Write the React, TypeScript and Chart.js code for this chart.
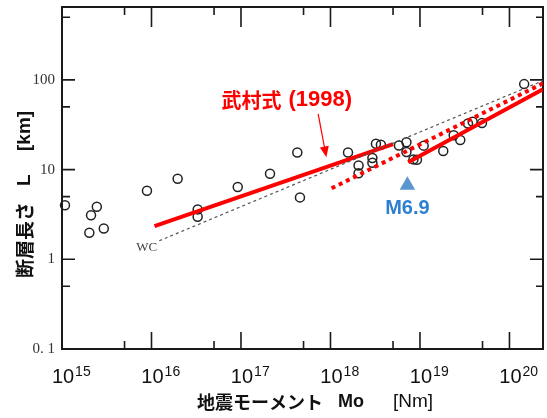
import React, { useEffect, useRef } from 'react';
import { Chart, registerables } from 'chart.js';
Chart.register(...registerables);

// Observed earthquakes: seismic moment Mo [Nm] vs fault length L [km]
const momentNm = [
  1.08e15, 2.45e15, 2.11e15, 2.02e15, 2.93e15, 8.9e15, 1.96e16, 3.28e16, 3.28e16,
  9.2e16, 2.11e17, 4.26e17, 4.56e17, 1.57e18, 2.06e18, 2.06e18, 2.94e18, 2.94e18,
  3.22e18, 3.66e18, 5.82e18, 7.06e18, 7.06e18, 8.45e18, 9.25e18, 1.1e19, 1.82e19,
  2.38e19, 2.82e19, 3.44e19, 3.88e19, 4.93e19, 1.46e20,
];
const lengthKm = [
  4.0, 3.86, 3.1, 1.98, 2.21, 5.8, 7.9, 3.6, 2.98,
  6.4, 9.0, 15.5, 4.9, 15.5, 11.1, 9.1, 13.5, 11.9,
  19.4, 18.9, 18.6, 20.2, 15.7, 13.0, 12.9, 18.5, 16.1,
  24.2, 21.4, 32.6, 34.2, 33.0, 89.8,
];

// Takemura (1998) relations
const takemuraSmallX = [1.08e16, 5.0e18];
const takemuraSmallY = [2.35, 19.2];
const takemuraLargeX = [7.38e18, 2.37e20];
const takemuraLargeY = [12.1, 78.5];
// red dotted relation
const dottedX = [1.03e18, 2.37e20];
const dottedY = [6.19, 91.6];
// Wells & Coppersmith (WC)
const wcX = [1.22e16, 2.37e20];
const wcY = [1.61, 98];

// M6.9 marker
const m69X = [7.24e18];
const m69Y = [6.7];

// annotation arrow (from label to line) and label anchor
const arrowX = [7.28e17, 9.0e17];
const arrowY = [41.7, 13.7];
const labelX = [6.05e16];
const labelY = [59.7];

// axes
const xMin = 1e15;
const xMax = 2.37e20;
const yMin = 0.1;
const yMax = 650;
const xMajor = [1e15, 1e16, 1e17, 1e18, 1e19, 1e20];
const xMinor = [5e15, 5e16, 5e17, 5e18, 5e19];
const xExp = ['15', '16', '17', '18', '19', '20'];
const yMajor = [0.1, 1, 10, 100];
const yMinor = [0.5, 5, 50, 500];
const yTickLabels = ['0. 1', '1', '10', '100'];

const pts = (xs: number[], ys: number[]) => xs.map((x, i) => ({ x, y: ys[i] }));

const overlay = {
  id: 'overlay',
  beforeDatasetsDraw(chart: any) {
    const { ctx, chartArea: a, scales } = chart;
    const xs = scales.x;
    const ys = scales.y;
    ctx.save();
    ctx.strokeStyle = '#1a1a1a';
    ctx.lineWidth = 1.6;
    ctx.beginPath();
    xMajor.forEach((v) => {
      const p = xs.getPixelForValue(v);
      if (p < a.left + 1 || p > a.right - 1) return;
      ctx.moveTo(p, a.bottom);
      ctx.lineTo(p, a.bottom - 17);
      ctx.moveTo(p, a.top);
      ctx.lineTo(p, a.top + 20);
    });
    xMinor.forEach((v) => {
      const p = xs.getPixelForValue(v);
      if (p < a.left + 1 || p > a.right - 1) return;
      ctx.moveTo(p, a.bottom);
      ctx.lineTo(p, a.bottom - 8);
      ctx.moveTo(p, a.top);
      ctx.lineTo(p, a.top + 8);
    });
    yMajor.forEach((v) => {
      const p = ys.getPixelForValue(v);
      if (p < a.top + 1 || p > a.bottom - 1) return;
      ctx.moveTo(a.left, p);
      ctx.lineTo(a.left + 13, p);
      ctx.moveTo(a.right, p);
      ctx.lineTo(a.right - 13, p);
    });
    yMinor.forEach((v) => {
      const p = ys.getPixelForValue(v);
      if (p < a.top + 1 || p > a.bottom - 1) return;
      ctx.moveTo(a.left, p);
      ctx.lineTo(a.left + 8, p);
      ctx.moveTo(a.right, p);
      ctx.lineTo(a.right - 7, p);
    });
    ctx.stroke();
    ctx.lineWidth = 2;
    ctx.strokeRect(a.left, a.top, a.right - a.left, a.bottom - a.top);
    ctx.restore();
  },
  afterDraw(chart: any) {
    const { ctx, chartArea: a, scales } = chart;
    const xs = scales.x;
    const ys = scales.y;
    ctx.save();

    // y tick labels
    ctx.fillStyle = '#333';
    ctx.font = '15px "Liberation Serif"';
    ctx.textAlign = 'right';
    ctx.textBaseline = 'middle';
    yMajor.forEach((v, i) => {
      ctx.fillText(yTickLabels[i], a.left - 7, ys.getPixelForValue(v));
    });

    // x tick labels with superscript
    ctx.fillStyle = '#111';
    ctx.textBaseline = 'alphabetic';
    xMajor.forEach((v, i) => {
      const p = xs.getPixelForValue(v) + 1;
      ctx.font = '20px "Liberation Sans"';
      ctx.textAlign = 'center';
      ctx.fillText('10', p, a.bottom + 34);
      const w = ctx.measureText('10').width;
      ctx.font = '14px "Liberation Sans"';
      ctx.textAlign = 'left';
      ctx.fillText(xExp[i], p + w / 2 + 1, a.bottom + 27);
    });

    // x title
    ctx.fillStyle = '#111';
    ctx.textBaseline = 'middle';
    ctx.textAlign = 'left';
    const ty = a.bottom + 53;
    ctx.font = 'bold 18px "Noto Sans CJK JP"';
    ctx.fillText('地震モーメント', 197, ty);
    ctx.font = 'bold 18px "Liberation Sans"';
    ctx.fillText('Mo', 338, ty);
    ctx.font = '19px "Liberation Sans"';
    ctx.fillText('[Nm]', 393, ty);

    // y title (rotated)
    ctx.save();
    ctx.translate(25, 278);
    ctx.rotate(-Math.PI / 2);
    ctx.textBaseline = 'middle';
    ctx.textAlign = 'left';
    ctx.font = 'bold 19px "Noto Sans CJK JP"';
    ctx.fillText('断層長さ', 0, 0);
    ctx.font = 'bold 19px "Liberation Sans"';
    ctx.fillText('L', 92, 0);
    ctx.fillText('[km]', 127, 0);
    ctx.restore();

    // WC label
    const wx = xs.getPixelForValue(wcX[0]);
    const wy = ys.getPixelForValue(wcY[0]);
    ctx.fillStyle = '#444';
    ctx.font = '13px "Liberation Serif"';
    ctx.textAlign = 'right';
    ctx.textBaseline = 'middle';
    ctx.fillText('WC', wx - 2, wy + 7);

    // Takemura label
    const lx = xs.getPixelForValue(labelX[0]);
    const ly = ys.getPixelForValue(labelY[0]);
    ctx.fillStyle = '#ff0000';
    ctx.textAlign = 'left';
    ctx.font = 'bold 20px "Noto Sans CJK JP"';
    ctx.fillText('武村式', lx, ly);
    const lw = ctx.measureText('武村式').width;
    ctx.font = 'bold 22px "Liberation Sans"';
    ctx.fillText('(1998)', lx + lw + 7, ly);

    // arrow
    const ax0 = xs.getPixelForValue(arrowX[0]);
    const ay0 = ys.getPixelForValue(arrowY[0]);
    const ax1 = xs.getPixelForValue(arrowX[1]);
    const ay1 = ys.getPixelForValue(arrowY[1]);
    const ang = Math.atan2(ay1 - ay0, ax1 - ax0);
    const hl = 11;
    const hw = 4.5;
    ctx.strokeStyle = '#ff0000';
    ctx.lineWidth = 1.2;
    ctx.beginPath();
    ctx.moveTo(ax0, ay0);
    ctx.lineTo(ax1 - Math.cos(ang) * hl * 0.8, ay1 - Math.sin(ang) * hl * 0.8);
    ctx.stroke();
    ctx.beginPath();
    ctx.moveTo(ax1, ay1);
    ctx.lineTo(ax1 - Math.cos(ang) * hl - Math.sin(ang) * hw, ay1 - Math.sin(ang) * hl + Math.cos(ang) * hw);
    ctx.lineTo(ax1 - Math.cos(ang) * hl + Math.sin(ang) * hw, ay1 - Math.sin(ang) * hl - Math.cos(ang) * hw);
    ctx.closePath();
    ctx.fillStyle = '#ff0000';
    ctx.fill();

    // M6.9 label
    const mx = xs.getPixelForValue(m69X[0]);
    const my = ys.getPixelForValue(m69Y[0]);
    ctx.fillStyle = '#2f7fcf';
    ctx.font = 'bold 20px "Liberation Sans"';
    ctx.textAlign = 'center';
    ctx.textBaseline = 'middle';
    ctx.fillText('M6.9', mx, my + 23);

    ctx.restore();
  },
};

export default function App() {
  const ref = useRef<HTMLCanvasElement | null>(null);
  useEffect(() => {
    document.body.style.margin = '0';
    const canvas = ref.current;
    if (!canvas) return;
    const chart = new Chart(canvas, {
      type: 'scatter',
      data: {
        datasets: [
          {
            data: pts(wcX, wcY),
            showLine: true,
            borderColor: '#555',
            borderWidth: 1.2,
            borderDash: [3, 3],
            pointRadius: 0,
          },
          {
            data: pts(dottedX, dottedY),
            showLine: true,
            borderColor: '#ff0000',
            borderWidth: 4,
            borderDash: [4, 4],
            pointRadius: 0,
          },
          {
            data: pts(takemuraSmallX, takemuraSmallY),
            showLine: true,
            borderColor: '#ff0000',
            borderWidth: 4,
            pointRadius: 0,
          },
          {
            data: pts(takemuraLargeX, takemuraLargeY),
            showLine: true,
            borderColor: '#ff0000',
            borderWidth: 4,
            pointRadius: 0,
          },
          {
            data: pts(momentNm, lengthKm),
            showLine: false,
            pointRadius: 4.5,
            pointBorderWidth: 1.5,
            pointBorderColor: '#222',
            pointBackgroundColor: 'rgba(0,0,0,0)',
            clip: false,
          },
          {
            data: pts(m69X, m69Y),
            showLine: false,
            pointStyle: 'triangle',
            pointRadius: 9,
            pointBorderWidth: 0,
            pointBackgroundColor: '#5b95d0',
            pointBorderColor: '#5b95d0',
          },
        ],
      },
      options: {
        responsive: false,
        animation: false,
        devicePixelRatio: 1,
        layout: { autoPadding: false, padding: { left: 62, right: 4, top: 7, bottom: 69 } },
        plugins: { legend: { display: false }, tooltip: { enabled: false } },
        scales: {
          x: { type: 'logarithmic', min: xMin, max: xMax, display: false },
          y: { type: 'logarithmic', min: yMin, max: yMax, display: false },
        },
      } as any,
      plugins: [overlay],
    });
    return () => chart.destroy();
  }, []);
  return (
    <div style={{ width: 547, height: 418, background: '#fff' }}>
      <canvas ref={ref} width={547} height={418} style={{ width: 547, height: 418, display: 'block' }} />
    </div>
  );
}
